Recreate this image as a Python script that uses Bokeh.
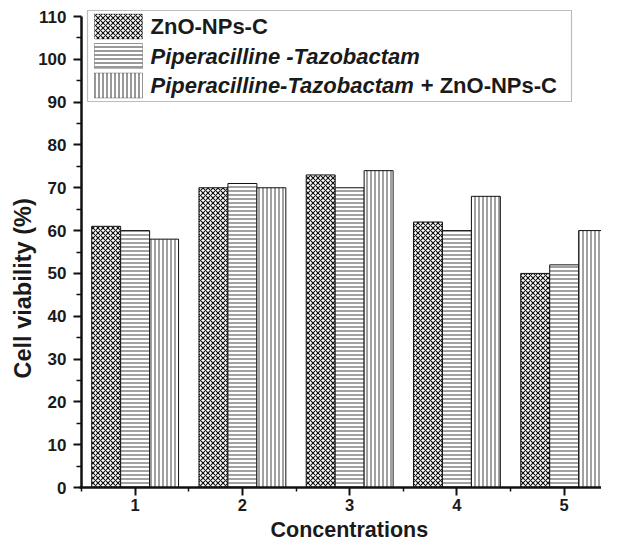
from bokeh.plotting import figure
from bokeh.models import BoxAnnotation, Label, FixedTicker, Range1d, ColumnDataSource, Title
from bokeh.transform import dodge
from bokeh.embed import file_html
from bokeh.resources import INLINE

# ---- data ----
concentrations = [1, 2, 3, 4, 5]
zno_nps_c = [61, 70, 73, 62, 50]
pip_tazo = [60, 71, 70, 60, 52]
pip_tazo_zno = [58, 70, 74, 68, 60]
y_ticks = [0, 10, 20, 30, 40, 50, 60, 70, 80, 90, 100, 110]
y_minor = [5, 15, 25, 35, 45, 55, 65, 75, 85, 95, 105]
labels = ["ZnO-NPs-C", "Piperacilline -Tazobactam",
          "Piperacilline-Tazobactam", "+ ZnO-NPs-C"]
x_title = "Concentrations"
y_title = "Cell viability (%)"

FONT = "Liberation Sans"
TXT = "#1a1a1a"

src = ColumnDataSource(dict(x=concentrations, a=zno_nps_c, b=pip_tazo, c=pip_tazo_zno))

# frame: left 79, right 601, top 9, bottom 487 (canvas px)
p = figure(width=601, height=544, x_range=Range1d(0.4813, 5.348), y_range=Range1d(0, 111.635),
           output_backend="svg", toolbar_location=None,
           min_border_left=79, min_border_right=0, min_border_top=9, min_border_bottom=57)
p.outline_line_color = None
p.xgrid.visible = False
p.ygrid.visible = False

bw = 0.27
common = dict(width=bw, bottom=0, source=src, fill_color="white", line_color="#111", line_width=1)
p.vbar(x=dodge("x", -bw), top="a", hatch_pattern="x", hatch_scale=5, hatch_weight=1.1,
       hatch_color="#111", **common)
p.vbar(x=dodge("x", 0), top="b", hatch_pattern="-", hatch_scale=4, hatch_weight=1,
       hatch_color="#444", **common)
p.vbar(x=dodge("x", bw), top="c", hatch_pattern="|", hatch_scale=4, hatch_weight=1,
       hatch_color="#444", **common)

# y axis line only up to the last tick
x_axis_start = concentrations[0] - 0.5
p.segment(x0=[x_axis_start], y0=[y_ticks[0]], x1=[x_axis_start], y1=[y_ticks[-1]],
          line_color="#111", line_width=2.5)

minor_x = [c - 0.5 for c in concentrations] + [concentrations[-1] + 0.5]
p.xaxis.ticker = FixedTicker(ticks=concentrations, minor_ticks=minor_x)
p.yaxis.ticker = FixedTicker(ticks=y_ticks, minor_ticks=y_minor)

for ax in (p.xaxis, p.yaxis):
    ax.axis_line_width = 2.5
    ax.axis_line_color = "#111"
    ax.major_tick_line_width = 2
    ax.major_tick_line_color = "#111"
    ax.minor_tick_line_width = 1.5
    ax.minor_tick_line_color = "#111"
    ax.major_tick_in = 0
    ax.major_tick_out = 8
    ax.minor_tick_in = 0
    ax.minor_tick_out = 4
    ax.major_label_text_font = FONT
    ax.major_label_text_font_style = "bold"
    ax.major_label_text_font_size = "17px"
    ax.major_label_text_color = TXT

p.yaxis.axis_line_color = None
p.yaxis.major_tick_in = 2
p.yaxis.major_tick_out = 6
p.yaxis.minor_tick_in = 2
p.yaxis.minor_tick_out = 3
p.xaxis.major_label_standoff = 3
p.xaxis.major_label_text_font_size = "16.5px"
p.yaxis.major_label_standoff = 7

# ---- axis titles ----
p.add_layout(Title(text=x_title, align="left", offset=191, standoff=4, vertical_align="bottom",
                   text_font=FONT, text_font_style="bold", text_font_size="21.5px",
                   text_color=TXT), "below")
p.add_layout(Title(text=y_title, align="left", offset=109, standoff=0,
                   text_font=FONT, text_font_style="bold", text_font_size="23.5px",
                   text_color=TXT), "left")

# ---- legend (manual, frame screen units) ----
p.add_layout(BoxAnnotation(left=8, right=492, bottom=386, top=477,
                           left_units="screen", right_units="screen",
                           bottom_units="screen", top_units="screen",
                           fill_color="white", fill_alpha=1, line_color="#222",
                           line_width=1.2, level="annotation"))
rows = [461, 431.5, 402]
pats = [("x", 5, "#111"), ("-", 4, "#444"), ("|", 4, "#444")]
for yc, (pat, sc, col) in zip(rows, pats):
    p.add_layout(BoxAnnotation(left=15, right=63, bottom=yc - 12.5, top=yc + 12.5,
                               left_units="screen", right_units="screen",
                               bottom_units="screen", top_units="screen",
                               fill_color="white", fill_alpha=1, line_color="#111",
                               line_width=1, hatch_pattern=pat, hatch_scale=sc,
                               hatch_color=col, hatch_weight=1.1, level="annotation"))

fs = 22
lab_kw = dict(x_units="screen", y_units="screen", text_font=FONT, text_font_size=f"{fs}px",
              text_baseline="middle", text_color=TXT)
p.add_layout(Label(x=71, y=rows[0], text=labels[0], text_font_style="bold", **lab_kw))
p.add_layout(Label(x=71, y=rows[1], text=labels[1], text_font_style="bold italic", **lab_kw))
p.add_layout(Label(x=71, y=rows[2], text=labels[2], text_font_style="bold italic", **lab_kw))
p.add_layout(Label(x=71 + (12.004 + 0.278) * fs, y=rows[2], text=labels[3],
                   text_font_style="bold", **lab_kw))

open("out.html", "w").write(file_html(p, INLINE))
